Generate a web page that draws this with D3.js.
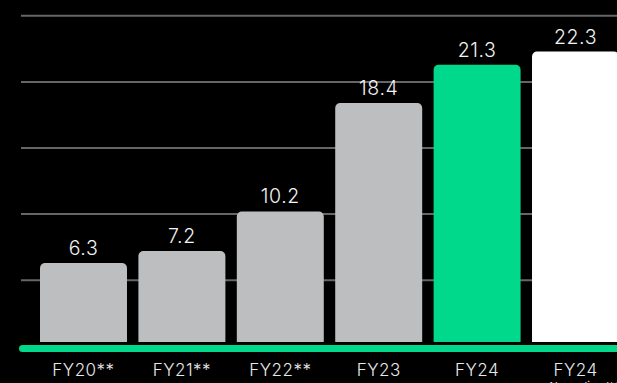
<!DOCTYPE html>
<html>
<head>
<meta charset="utf-8">
<script src="https://cdn.jsdelivr.net/npm/d3@7"></script>
<style>
  html, body { margin: 0; padding: 0; background: #000; }
  svg { display: block; }
  text { font-family: Inter, "Open Sans", sans-serif; }
</style>
</head>
<body>
<svg id="chart" width="617" height="383"></svg>
<script>
// Revenue by fiscal year
const categories = ["FY20**", "FY21**", "FY22**", "FY23", "FY24", "FY24"];
const subLabels = ["", "", "", "", "", "Normalised***"];
const values = [6.3, 7.2, 10.2, 18.4, 21.3, 22.3];
const barColors = ["#bdbebf", "#bdbebf", "#bdbebf", "#bdbebf", "#00d98b", "#ffffff"];
const gridTicks = [5, 10, 15, 20, 25];

const W = 617, H = 383;
const svg = d3.select("#chart");

const x = d3.scaleBand()
  .domain(d3.range(categories.length))
  .range([40, 619])
  .paddingInner(0.116)
  .paddingOuter(0);

const y = d3.scaleLinear()
  .domain([0, 26.2])
  .range([346.2, 0]);

// horizontal gridlines
svg.append("g")
  .selectAll("line")
  .data(gridTicks)
  .join("line")
  .attr("x1", 21)
  .attr("x2", W)
  .attr("y1", d => y(d))
  .attr("y2", d => y(d))
  .attr("stroke", "#666666")
  .attr("stroke-width", 2);

// bars with rounded tops
svg.append("g")
  .selectAll("rect")
  .data(values)
  .join("rect")
  .attr("x", (d, i) => x(i))
  .attr("width", x.bandwidth())
  .attr("y", d => y(d))
  .attr("height", d => y(0) - y(d) + 8)
  .attr("rx", 5)
  .attr("fill", (d, i) => barColors[i]);

// value labels
svg.append("g")
  .selectAll("text")
  .data(values)
  .join("text")
  .attr("x", (d, i) => x(i) + x.bandwidth() / 2)
  .attr("y", d => y(d) - 8)
  .attr("text-anchor", "middle")
  .attr("fill", "#f2f2f2")
  .attr("font-size", 19.5)
  .attr("font-weight", 300)
  .attr("letter-spacing", 0.6)
  .text(d => d.toFixed(1));

// separator gap and green baseline
svg.append("rect")
  .attr("x", 0).attr("y", 342)
  .attr("width", W).attr("height", 20)
  .attr("fill", "#000");

svg.append("line")
  .attr("x1", 22.5)
  .attr("x2", W + 10)
  .attr("y1", 348.5)
  .attr("y2", 348.5)
  .attr("stroke", "#00d98b")
  .attr("stroke-width", 7)
  .attr("stroke-linecap", "round");

// category labels
const xAxis = svg.append("g");
xAxis.selectAll("text.cat")
  .data(categories)
  .join("text")
  .attr("class", "cat")
  .attr("x", (d, i) => x(i) + x.bandwidth() / 2)
  .attr("y", 376)
  .attr("text-anchor", "middle")
  .attr("fill", "#e8e8e8")
  .attr("font-size", 17)
  .attr("font-weight", 300)
  .attr("letter-spacing", 0.5)
  .text(d => d);

xAxis.selectAll("text.sub")
  .data(subLabels)
  .join("text")
  .attr("class", "sub")
  .attr("x", (d, i) => x(i) + x.bandwidth() / 2 + 12)
  .attr("y", 390)
  .attr("text-anchor", "middle")
  .attr("fill", "#e8e8e8")
  .attr("font-size", 11)
  .text(d => d);
</script>
</body>
</html>
